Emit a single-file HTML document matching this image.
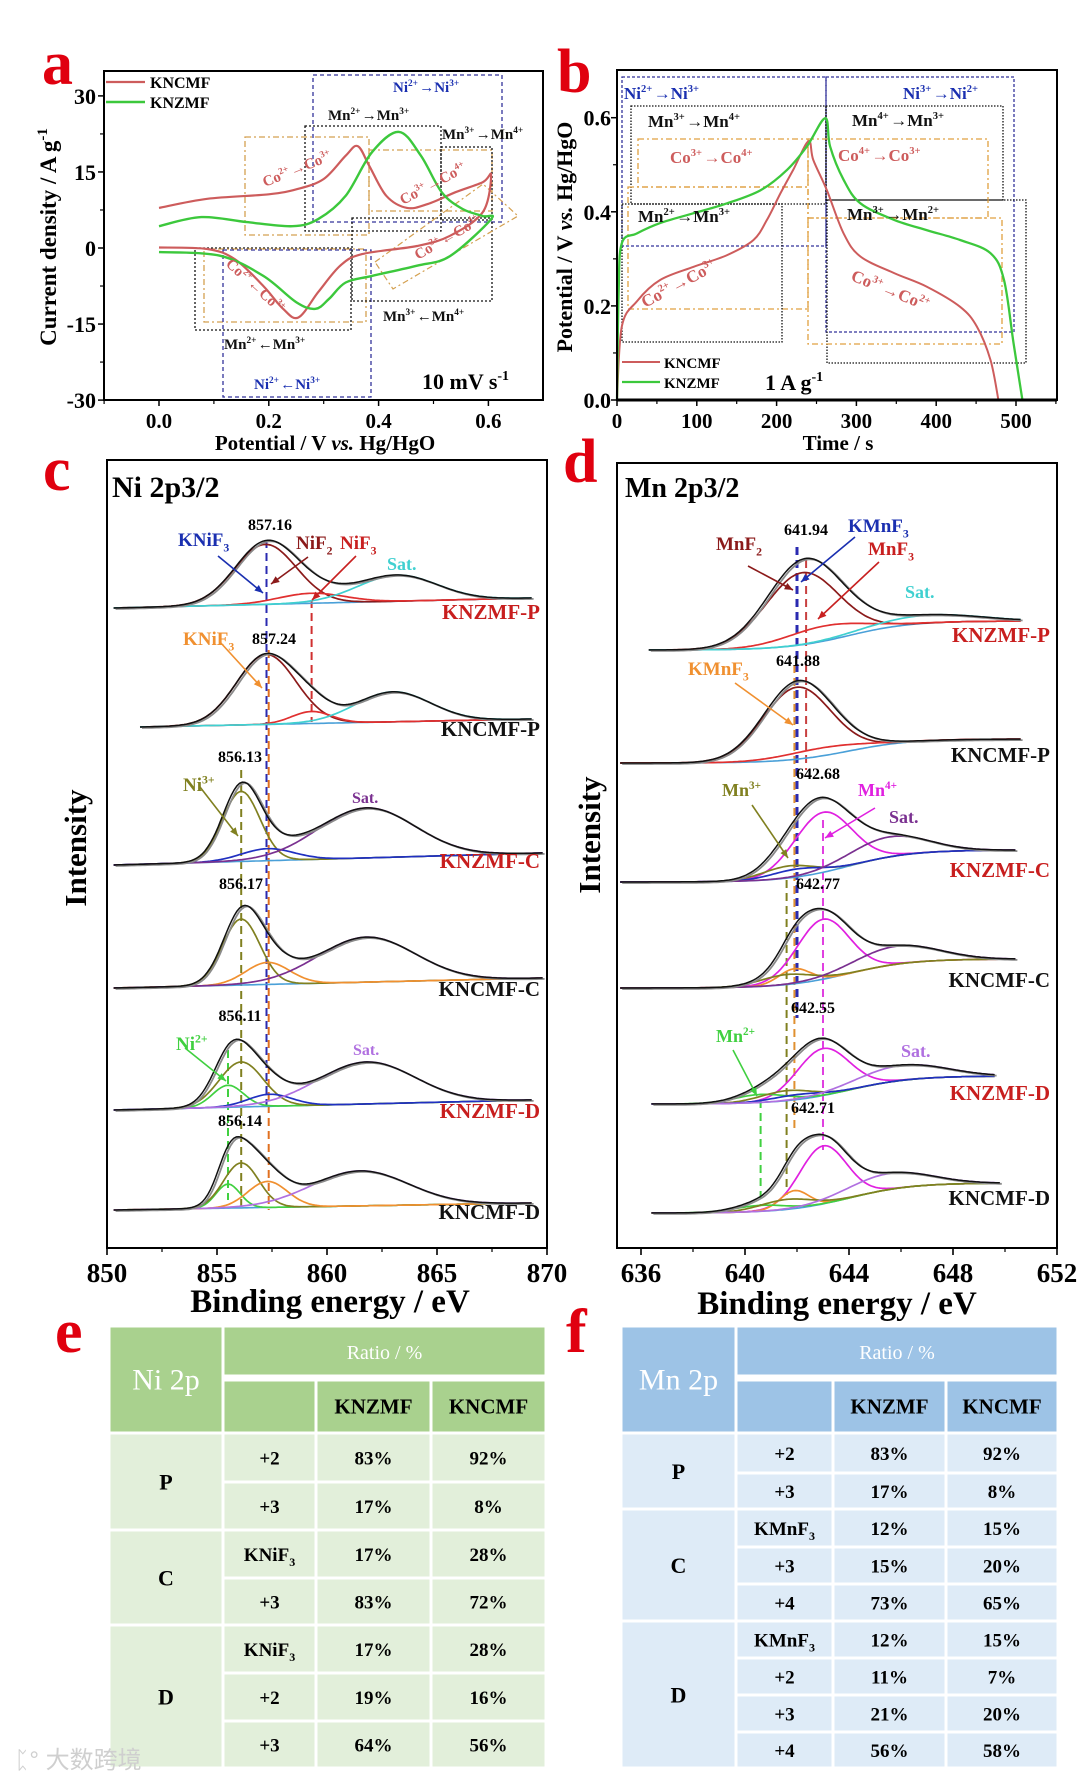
<!DOCTYPE html>
<html><head><meta charset="utf-8"><title>Electrochemistry and XPS figure</title>
<style>
html,body{margin:0;padding:0;background:#fff;}
svg{display:block;font-family:"Liberation Serif","Noto Serif CJK SC",serif;}
</style></head>
<body>
<svg id="fig" xmlns="http://www.w3.org/2000/svg" width="1080" height="1775" viewBox="0 0 1080 1775">
<rect x="0" y="0" width="1080" height="1775" fill="#fff"/>
<g id="pa"></g>
<g id="pb"></g>
<g id="pc"></g>
<g id="pd"></g>
<g id="pe"></g>
<g id="pf"></g>
<text x="15" y="1768" font-size="24" fill="#cfcfcf" font-family="'Liberation Sans','Noto Sans CJK SC',sans-serif">ᛈ° 大数跨境</text>
</svg>
<script>
// ---------- Panel a: CV data ----------
const cvPotKNCMF=[0,0.088,0.2,0.251,0.30,0.34,0.362,0.383,0.414,0.452,0.49,0.54,0.59,0.605,0.59,0.53,0.47,0.37,0.33,0.29,0.254,0.226,0.19,0.138,0.088,0];
const cvCurKNCMF=[7.9,9.7,10.6,11.6,13.6,18.2,20.1,16.2,10.3,7.9,8.7,11,13,14.4,7.1,2.4,0.4,-1.2,-3.5,-8.7,-13.7,-12.0,-7.5,-2.2,-0.2,0.1];
const cvPotKNZMF=[0,0.077,0.16,0.243,0.29,0.34,0.388,0.437,0.477,0.515,0.553,0.59,0.605,0.53,0.47,0.388,0.34,0.31,0.285,0.25,0.19,0.11,0];
const cvCurKNZMF=[4.3,6.1,5.1,4.3,5.7,10.3,18.9,22.9,18.2,11,7.7,6.3,5.7,-1.6,-3.5,-5.5,-6.8,-10,-12.0,-10.7,-5.5,-1.5,-0.8];
const cvXTicks=[0.0,0.2,0.4,0.6];
const cvXTickLabels=["0.0","0.2","0.4","0.6"];
const cvYTicks=[30,15,0,-15,-30];
const cvYTickLabels=["30","15","0","-15","-30"];
// ---------- Panel b: GCD data ----------
const gcdTimeKNCMF=[0,6,25,54,96,138,171,188,205,221,240,246,263,284,305,347,388,430,451,468,478];
const gcdPotKNCMF=[0,0.156,0.21,0.255,0.283,0.308,0.34,0.383,0.44,0.49,0.55,0.51,0.446,0.354,0.305,0.27,0.241,0.198,0.156,0.085,0];
const gcdTimeKNZMF=[0,2,6,25,54,96,138,180,213,238,261,267,284,305,347,388,430,468,485,497,508];
const gcdPotKNZMF=[0,0.227,0.333,0.354,0.376,0.397,0.418,0.446,0.489,0.539,0.599,0.539,0.468,0.418,0.383,0.361,0.34,0.312,0.255,0.12,0];
const gcdXTicks=[0,100,200,300,400,500];
const gcdXTickLabels=["0","100","200","300","400","500"];
const gcdYTicks=[0,0.2,0.4,0.6];
const gcdYTickLabels=["0.0","0.2","0.4","0.6"];
// ---------- Panel c: Ni 2p3/2 fits ----------
const niNames=["KNZMF-P","KNCMF-P","KNZMF-C","KNCMF-C","KNZMF-D","KNCMF-D"];
const niBaseLeft=[608,727,865,988,1110,1210];
const niBaseRight=[598,719,853,978,1100,1203];
const niStart=[850.3,851.5,850.3,850.3,850.3,850.3];
const niEnd=[869.3,869.3,869.8,869.8,869.3,869.3];
const niCenters=[[857.2,859.3,863.2],[857.24,859.3,863.0],[856.1,857.3,861.8],[856.1,857.3,861.8],[855.5,856.1,857.4,861.8],[855.5,856.1,857.3,861.5]];
const niHeights=[[60,10,26],[70,12,30],[70,12,50],[66,22,45],[22,45,12,42],[24,45,26,35]];
const niWidths=[[1.4,1.5,1.8],[1.35,0.9,1.7],[0.85,1.2,2.2],[0.85,1.0,2.2],[0.7,1.0,1.0,2.2],[0.55,0.8,0.9,2.2]];
const niPeakLabels=["857.16","857.24","856.13","856.17","856.11","856.14"];
const niXTicks=[850,855,860,865,870];
const niXTickLabels=["850","855","860","865","870"];
// ---------- Panel d: Mn 2p3/2 fits ----------
const mnNames=["KNZMF-P","KNCMF-P","KNZMF-C","KNCMF-C","KNZMF-D","KNCMF-D"];
const mnBaseLeft=[650,763,882,988,1104,1213];
const mnBaseRight=[621,739,850,959,1076,1183];
const mnStart=[636.3,635.2,635.2,635.2,636.4,636.4];
const mnEnd=[650.6,650.6,650.4,650.4,649.6,649.8];
const mnCenters=[[642.2,643.0,647.0],[642.0,643.0],[643.0,641.7,642.0,645.5],[643.0,641.9,641.6,645.8],[643.0,640.6,641.6,642.0,646.0],[643.0,641.9,640.6,641.6,645.5]];
const mnHeights=[[72,15,8],[72,8],[60,12,8,20],[60,15,10,18],[47,8,10,5,15],[58,18,6,10,16]];
const mnWidths=[[1.4,1.5,2.0],[1.3,1.5],[1.1,1.0,1.0,1.5],[1.0,0.6,1.0,1.6],[1.0,1.0,1.0,1.0,1.7],[0.9,0.55,1.0,1.0,1.6]];
const mnPeakLabels=["641.94","641.88","642.68","642.77","642.55","642.71"];
const mnXTicks=[636,640,644,648,652];
const mnXTickLabels=["636","640","644","648","652"];
// ---------- Tables ----------
const niRowStates=["+2","+3","KNiF3","+3","KNiF3","+2","+3"];
const niKNZMF=["83%","17%","17%","83%","17%","19%","64%"];
const niKNCMF=["92%","8%","28%","72%","28%","16%","56%"];
const mnRowStates=["+2","+3","KMnF3","+3","+4","KMnF3","+2","+3","+4"];
const mnKNZMF=["83%","17%","12%","15%","73%","12%","11%","21%","56%"];
const mnKNCMF=["92%","8%","15%","20%","65%","15%","7%","20%","58%"];
</script>
<script>
const NS="http://www.w3.org/2000/svg";
function mk(parent,tag,attrs,txt){const e=document.createElementNS(NS,tag);for(const k in attrs)e.setAttribute(k,attrs[k]);if(txt!==undefined)e.textContent=txt;parent.appendChild(e);return e;}
function smooth(pts){let d="M"+pts[0][0].toFixed(1)+","+pts[0][1].toFixed(1);for(let i=0;i<pts.length-1;i++){const p0=pts[Math.max(0,i-1)],p1=pts[i],p2=pts[i+1],p3=pts[Math.min(pts.length-1,i+2)];const c1=[p1[0]+(p2[0]-p0[0])/6,p1[1]+(p2[1]-p0[1])/6],c2=[p2[0]-(p3[0]-p1[0])/6,p2[1]-(p3[1]-p1[1])/6];d+="C"+c1[0].toFixed(1)+","+c1[1].toFixed(1)+" "+c2[0].toFixed(1)+","+c2[1].toFixed(1)+" "+p2[0].toFixed(1)+","+p2[1].toFixed(1);}return d;}
function poly(pts){return "M"+pts.map(p=>p[0].toFixed(1)+","+p[1].toFixed(1)).join("L");}
function gauss(x,c,h,w){return h*Math.exp(-((x-c)*(x-c))/(2*w*w));}
function ion(parent,x,y,size,fill,parts,name,rot){
  const t=mk(parent,"text",{x:x,y:y,"font-size":size,fill:fill,"font-weight":"bold",transform:rot?`rotate(${rot} ${x} ${y})`:""});
  
  
  parts.forEach(p=>{if(typeof p==="string"){mk(t,"tspan",{},p);}else{const sub=p[2]==="sub";const dy=sub?size*0.3:-size*0.4;mk(t,"tspan",{},p[0]);mk(t,"tspan",{dy:dy,"font-size":size*0.62},p[1]);mk(t,"tspan",{dy:-dy},"\u200a");}});
  return t;
}
function rectDash(parent,x1,y1,x2,y2,col,dash,name){const r=mk(parent,"rect",{x:x1,y:y1,width:x2-x1,height:y2-y1,fill:"none",stroke:col,"stroke-width":1.3,"stroke-dasharray":dash});return r;}

// ================= Panel a =================
(function(){
const g=document.getElementById("pa");
const L=104,R=543,T=71,B=400;
const xA=v=>159+v*549, yA=i=>248-i*5.07;
const lt=mk(g,"text",{x:42,y:84,"font-size":62,fill:"#e0000f","font-weight":"bold"},"a");
rectDash(g,313,75,502,222,"#33339a","4,3","box-ni-ox");
rectDash(g,305,126,441,231,"#111","2,2","box-mn23-ox");
rectDash(g,245,137,369,235,"#d4a050","6,3,2,3","box-co23-ox");
rectDash(g,369,150,492,211,"#d4a050","6,3,2,3","box-co34-ox");
rectDash(g,441,147,492,220,"#111","2,2","box-mn34-ox");
rectDash(g,195,248,351,330,"#111","2,2","box-mn23-red");
rectDash(g,204,249,366,322,"#d4a050","6,3,2,3","box-co-red");
rectDash(g,223,250,371,397,"#33339a","4,3","box-ni-red");
rectDash(g,352,218,492,301,"#111","2,2","box-mn34-red");
const rp=mk(g,"path",{d:"M375,262 L483,184 L518,216 L393,289 Z",fill:"none",stroke:"#d4a050","stroke-width":1.2,"stroke-dasharray":"6,3,2,3"});
const c1=mk(g,"path",{d:smooth(cvPotKNCMF.map((v,i)=>[xA(v),yA(cvCurKNCMF[i])])),fill:"none",stroke:"#cd5c5c","stroke-width":2.2});
const c2=mk(g,"path",{d:smooth(cvPotKNZMF.map((v,i)=>[xA(v),yA(cvCurKNZMF[i])])),fill:"none",stroke:"#3cc83c","stroke-width":2.4});
const ax=mk(g,"rect",{x:L,y:T,width:R-L,height:B-T,fill:"none",stroke:"#000","stroke-width":2});
cvXTicks.forEach((v,i)=>{mk(g,"line",{x1:xA(v),x2:xA(v),y1:B,y2:B+6,stroke:"#000","stroke-width":1.5});
 const t=mk(g,"text",{x:xA(v),y:428,"font-size":21,"text-anchor":"middle","font-weight":"bold"},cvXTickLabels[i]);});
[-0.1,0.1,0.3,0.5].forEach(v=>mk(g,"line",{x1:xA(v),x2:xA(v),y1:B,y2:B+4,stroke:"#000","stroke-width":1.2}));
cvYTicks.forEach((v,i)=>{mk(g,"line",{x1:L-6,x2:L,y1:yA(v),y2:yA(v),stroke:"#000","stroke-width":1.5});
 const t=mk(g,"text",{x:L-8,y:yA(v)+8,"font-size":22,"text-anchor":"end","font-weight":"bold"},cvYTickLabels[i]);});
[22.5,7.5,-7.5,-22.5].forEach(v=>mk(g,"line",{x1:L-4,x2:L,y1:yA(v),y2:yA(v),stroke:"#000","stroke-width":1.2}));
const yt=mk(g,"text",{x:56,y:237,"font-size":23,"text-anchor":"middle","font-weight":"bold",transform:"rotate(-90 56 237)"});
mk(yt,"tspan",{},"Current density / A g");mk(yt,"tspan",{dy:-9,"font-size":15},"-1");
const xt=mk(g,"text",{x:325,y:450,"font-size":21,"text-anchor":"middle","font-weight":"bold"});
mk(xt,"tspan",{},"Potential / V ");mk(xt,"tspan",{"font-style":"italic"},"vs.");mk(xt,"tspan",{}," Hg/HgO");
const l1=mk(g,"line",{x1:106,x2:145,y1:82,y2:82,stroke:"#cd5c5c","stroke-width":2.2});
const lt1=mk(g,"text",{x:150,y:88,"font-size":16,"font-weight":"bold"},"KNCMF");
const l2=mk(g,"line",{x1:106,x2:145,y1:102,y2:102,stroke:"#3cc83c","stroke-width":2.4});
const lt2=mk(g,"text",{x:150,y:108,"font-size":16,"font-weight":"bold"},"KNZMF");
ion(g,393,92,15,"#1a2fb0",[["Ni","2+"],"\u2192",["Ni","3+"]],"label-ni-ox");
ion(g,328,120,15,"#111",[["Mn","2+"],"\u2192",["Mn","3+"]],"label-mn23-ox");
ion(g,442,139,15,"#111",[["Mn","3+"],"\u2192",["Mn","4+"]],"label-mn34-ox");
ion(g,265,187,15,"#cd5c5c",[["Co","2+"],"\u2192",["Co","3+"]],"label-co23-ox",-22);
ion(g,403,205,15,"#cd5c5c",[["Co","3+"],"\u2192",["Co","4+"]],"label-co34-ox",-28);
ion(g,225,265,15,"#cd5c5c",[["Co","2+"],"\u2190",["Co","3+"]],"label-co23-red",42);
ion(g,418,260,15,"#cd5c5c",[["Co","3+"],"\u2190",["Co","4+"]],"label-co34-red",-30);
ion(g,224,349,15,"#111",[["Mn","2+"],"\u2190",["Mn","3+"]],"label-mn23-red");
ion(g,383,321,15,"#111",[["Mn","3+"],"\u2190",["Mn","4+"]],"label-mn34-red");
ion(g,254,389,15,"#1a2fb0",[["Ni","2+"],"\u2190",["Ni","3+"]],"label-ni-red");
const sr=mk(g,"text",{x:422,y:389,"font-size":22,"font-weight":"bold"});
mk(sr,"tspan",{},"10 mV s");mk(sr,"tspan",{dy:-9,"font-size":14},"-1");
})();

// ================= Panel b =================
(function(){
const g=document.getElementById("pb");
const L=617,R=1057,T=70,B=400;
const xB=t=>617+t*0.798, yB=v=>400-v*470.5;
const lt=mk(g,"text",{x:557,y:92,"font-size":62,fill:"#e0000f","font-weight":"bold"},"b");
rectDash(g,622,77,826,246,"#33339a","3,2","box-ni-charge");
rectDash(g,826,77,1014,332,"#33339a","3,2","box-ni-discharge");
rectDash(g,631,106,826,204,"#111","1.5,1.5","box-mn34-charge");
rectDash(g,826,106,1003,200,"#111","1.5,1.5","box-mn43-discharge");
rectDash(g,638,139,808,187,"#e0a040","6,3,2,3","box-co34-charge");
rectDash(g,808,139,988,218,"#e0a040","6,3,2,3","box-co43-discharge");
rectDash(g,628,187,808,309,"#e0a040","6,3,2,3","box-co23-charge");
rectDash(g,622,204,782,342,"#111","1.5,1.5","box-mn23-charge");
rectDash(g,827,200,1026,363,"#111","1.5,1.5","box-mn32-discharge");
rectDash(g,808,218,1002,344,"#e0a040","6,3,2,3","box-co32-discharge");
const c1=mk(g,"path",{d:smooth(gcdTimeKNCMF.map((t,i)=>[xB(t),yB(gcdPotKNCMF[i])])),fill:"none",stroke:"#cd5c5c","stroke-width":2});
const c2=mk(g,"path",{d:smooth(gcdTimeKNZMF.map((t,i)=>[xB(t),yB(gcdPotKNZMF[i])])),fill:"none",stroke:"#3cc83c","stroke-width":2.3});
const ax=mk(g,"rect",{x:L,y:T,width:R-L,height:B-T,fill:"none",stroke:"#000","stroke-width":2});
mk(g,"line",{x1:L,x2:R,y1:B,y2:B,stroke:"#000","stroke-width":3});
gcdXTicks.forEach((v,i)=>{mk(g,"line",{x1:xB(v),x2:xB(v),y1:B,y2:B+6,stroke:"#000","stroke-width":1.5});
 const t=mk(g,"text",{x:xB(v),y:428,"font-size":21,"text-anchor":"middle","font-weight":"bold"},gcdXTickLabels[i]);});
[50,150,250,350,450,550].forEach(v=>mk(g,"line",{x1:xB(v),x2:xB(v),y1:B,y2:B+4,stroke:"#000","stroke-width":1.2}));
gcdYTicks.forEach((v,i)=>{mk(g,"line",{x1:L-6,x2:L,y1:yB(v),y2:yB(v),stroke:"#000","stroke-width":1.5});
 const t=mk(g,"text",{x:L-6,y:yB(v)+8,"font-size":22,"text-anchor":"end","font-weight":"bold"},gcdYTickLabels[i]);});
[0.1,0.3,0.5].forEach(v=>mk(g,"line",{x1:L-4,x2:L,y1:yB(v),y2:yB(v),stroke:"#000","stroke-width":1.2}));
const yt=mk(g,"text",{x:572,y:237,"font-size":22,"text-anchor":"middle","font-weight":"bold",transform:"rotate(-90 572 237)"});
mk(yt,"tspan",{},"Potential / V ");mk(yt,"tspan",{"font-style":"italic"},"vs.");mk(yt,"tspan",{}," Hg/HgO");
const xt=mk(g,"text",{x:838,y:450,"font-size":21,"text-anchor":"middle","font-weight":"bold"},"Time / s");
const l1=mk(g,"line",{x1:622,x2:660,y1:362,y2:362,stroke:"#cd5c5c","stroke-width":2});
const lt1=mk(g,"text",{x:664,y:368,"font-size":15,"font-weight":"bold"},"KNCMF");
const l2=mk(g,"line",{x1:622,x2:660,y1:382,y2:382,stroke:"#3cc83c","stroke-width":2.3});
const lt2=mk(g,"text",{x:664,y:388,"font-size":15,"font-weight":"bold"},"KNZMF");
const cd=mk(g,"text",{x:765,y:390,"font-size":22,"font-weight":"bold"});
mk(cd,"tspan",{},"1 A g");mk(cd,"tspan",{dy:-9,"font-size":14},"-1");
ion(g,624,99,17,"#1a2fb0",[["Ni","2+"],"\u2192",["Ni","3+"]],"label-ni-charge");
ion(g,903,99,17,"#1a2fb0",[["Ni","3+"],"\u2192",["Ni","2+"]],"label-ni-discharge");
ion(g,648,127,17,"#111",[["Mn","3+"],"\u2192",["Mn","4+"]],"label-mn34-charge");
ion(g,852,126,17,"#111",[["Mn","4+"],"\u2192",["Mn","3+"]],"label-mn43-discharge");
ion(g,670,163,17,"#cd5c5c",[["Co","3+"],"\u2192",["Co","4+"]],"label-co34-charge");
ion(g,838,161,17,"#cd5c5c",[["Co","4+"],"\u2192",["Co","3+"]],"label-co43-discharge");
ion(g,638,222,17,"#111",[["Mn","2+"],"\u2192",["Mn","3+"]],"label-mn23-charge");
ion(g,847,220,17,"#111",[["Mn","3+"],"\u2192",["Mn","2+"]],"label-mn32-discharge");
ion(g,645,308,17,"#cd5c5c",[["Co","2+"],"\u2192",["Co","3+"]],"label-co23-charge",-28);
ion(g,850,280,17,"#cd5c5c",[["Co","3+"],"\u2192",["Co","2+"]],"label-co32-discharge",22);
})();

// ================= XPS panels =================
const niCompColors=[["#8b1a1a","#e03030","#40d0d0"],["#8b1a1a","#e03030","#40d0d0"],["#808020","#2030c0","#7a3090"],["#808020","#f09030","#7a3090"],["#40d040","#808020","#2030c0","#b070e0"],["#40d040","#808020","#f09030","#b070e0"]];
const mnCompColors=[["#8b1a1a","#e03030","#40d0d0"],["#8b1a1a","#e03030"],["#e020e0","#808020","#2030c0","#7a3090"],["#e020e0","#f09030","#808020","#7a3090"],["#e020e0","#40d040","#808020","#2030c0","#b070e0"],["#e020e0","#f09030","#40d040","#808020","#b070e0"]];
const labelColors=["#c81e1e","#111","#c81e1e","#111","#c81e1e","#111"];

function drawXps(g,names,bL,bR,xs,xe,cen,hei,wid,colors,xmap,sigm,key){
  names.forEach((nm,s)=>{
    const base=x=>sigm? bL[s]+(bR[s]-bL[s])/(1+Math.exp(-(x-644)/1.2)) : bL[s]+(bR[s]-bL[s])*(x-xs[s])/(xe[s]-xs[s]);
    const N=160,xsArr=[];for(let k=0;k<=N;k++)xsArr.push(xs[s]+(xe[s]-xs[s])*k/N);
    const bp=mk(g,"path",{d:poly(xsArr.map(x=>[xmap(x),base(x)])),fill:"none",stroke:"#4aa0d8","stroke-width":1.6});
    
    cen[s].forEach((c,j)=>{
      const p=mk(g,"path",{d:poly(xsArr.map(x=>[xmap(x),base(x)-gauss(x,c,hei[s][j],wid[s][j])])),fill:"none",stroke:colors[s][j],"stroke-width":1.7});
      
    });
    const sum=x=>cen[s].reduce((a,c,j)=>a+gauss(x,c,hei[s][j],wid[s][j]),0);
    const ge=mk(g,"path",{d:poly(xsArr.map(x=>[xmap(x)+2,base(x)-sum(x)+1])),fill:"none",stroke:"#8a8a8a","stroke-width":1.8});
    
    const de=mk(g,"path",{d:poly(xsArr.map(x=>[xmap(x),base(x)-sum(x)])),fill:"none",stroke:"#111","stroke-width":1.5});
    
  });
}

(function(){
const g=document.getElementById("pc");
const L=107,R=547,T=460,B=1248;
const xC=e=>107+(e-850)*22;
const lt=mk(g,"text",{x:43,y:490,"font-size":62,fill:"#e0000f","font-weight":"bold"},"c");
[[857.25,"#2a2ab0",540,1110],[857.35,"#e07020",650,1210],[859.3,"#d03030",600,722],[856.1,"#808020",770,1210],[855.5,"#40d040",1050,1200]].forEach(d=>{
 const l=mk(g,"line",{x1:xC(d[0]),x2:xC(d[0]),y1:d[2],y2:d[3],stroke:d[1],"stroke-width":2,"stroke-dasharray":"8,5"});});
drawXps(g,niNames,niBaseLeft,niBaseRight,niStart,niEnd,niCenters,niHeights,niWidths,niCompColors,xC,false,"ni");
const ax=mk(g,"rect",{x:L,y:T,width:R-L,height:B-T,fill:"none",stroke:"#000","stroke-width":2});
niXTicks.forEach((v,i)=>{mk(g,"line",{x1:xC(v),x2:xC(v),y1:B,y2:B+7,stroke:"#000","stroke-width":1.6});
 const t=mk(g,"text",{x:xC(v),y:1282,"font-size":27,"text-anchor":"middle","font-weight":"bold"},niXTickLabels[i]);});
[852.5,857.5,862.5,867.5].forEach(v=>mk(g,"line",{x1:xC(v),x2:xC(v),y1:B,y2:B+4,stroke:"#000","stroke-width":1.2}));
const xt=mk(g,"text",{x:330,y:1312,"font-size":33,"text-anchor":"middle","font-weight":"bold"},"Binding energy / eV");
const yt=mk(g,"text",{x:86,y:848,"font-size":31,"text-anchor":"middle","font-weight":"bold",transform:"rotate(-90 86 848)"},"Intensity");
const tt=mk(g,"text",{x:112,y:497,"font-size":30,"font-weight":"bold"},"Ni 2p3/2");
const lblY=[619,736,868,996,1118,1219];
niNames.forEach((n,i)=>{const t=mk(g,"text",{x:540,y:lblY[i],"font-size":21,"text-anchor":"end","font-weight":"bold",fill:labelColors[i]},n);});
const pkY=[530,644,762,889,1021,1126],pkX=[270,274,240,241,240,240];
niPeakLabels.forEach((p,i)=>{const t=mk(g,"text",{x:pkX[i],y:pkY[i],"font-size":16,"text-anchor":"middle","font-weight":"bold"},p);});
ion(g,178,546,19,"#1a2fb0",[["KNiF","3","sub"]],"label-knif3-blue");
ion(g,296,549,19,"#8b1a1a",[["NiF","2","sub"]],"label-nif2");
ion(g,340,549,19,"#c82020",[["NiF","3","sub"]],"label-nif3");
const s1=mk(g,"text",{x:387,y:570,"font-size":18,"font-weight":"bold",fill:"#40d0d0"},"Sat.");
ion(g,183,645,19,"#f09030",[["KNiF","3","sub"]],"label-knif3-orange");
ion(g,183,791,19,"#808020",[["Ni","3+"]],"label-ni3plus");
const s2=mk(g,"text",{x:352,y:803,"font-size":16,"font-weight":"bold",fill:"#7a3090"},"Sat.");
ion(g,176,1050,19,"#40d040",[["Ni","2+"]],"label-ni2plus");
const s3=mk(g,"text",{x:353,y:1055,"font-size":16,"font-weight":"bold",fill:"#b070e0"},"Sat.");
[[218,556,263,593,"#1a2fb0"],[308,557,271,584,"#8b1a1a"],[356,556,312,600,"#c82020"],[220,642,262,688,"#f09030"],[200,787,238,836,"#808020"],[185,1048,226,1081,"#40d040"]].forEach(a=>{
 const l=mk(g,"line",{x1:a[0],y1:a[1],x2:a[2],y2:a[3],stroke:a[4],"stroke-width":1.6});
 const ang=Math.atan2(a[3]-a[1],a[2]-a[0]);const hx=a[2],hy=a[3];
 mk(g,"path",{d:`M${hx},${hy} L${hx-9*Math.cos(ang-0.4)},${hy-9*Math.sin(ang-0.4)} L${hx-9*Math.cos(ang+0.4)},${hy-9*Math.sin(ang+0.4)} Z`,fill:a[4]});});
})();

(function(){
const g=document.getElementById("pd");
const L=617,R=1057,T=463,B=1248;
const xD=e=>641+(e-636)*26;
const lt=mk(g,"text",{x:563,y:482,"font-size":62,fill:"#e0000f","font-weight":"bold"},"d");
[[642.0,"#2a2ab0",547,1018,3],[641.9,"#e09030",665,1130,2],[642.35,"#c84040",560,770,2],[643.0,"#e040e0",820,1150,2],[641.6,"#808020",880,1195,2],[640.6,"#40d040",1100,1205,2]].forEach(d=>{
 const l=mk(g,"line",{x1:xD(d[0]),x2:xD(d[0]),y1:d[2],y2:d[3],stroke:d[1],"stroke-width":d[4],"stroke-dasharray":"8,5"});});
drawXps(g,mnNames,mnBaseLeft,mnBaseRight,mnStart,mnEnd,mnCenters,mnHeights,mnWidths,mnCompColors,xD,true,"mn");
const ax=mk(g,"rect",{x:L,y:T,width:R-L,height:B-T,fill:"none",stroke:"#000","stroke-width":2});
mnXTicks.forEach((v,i)=>{mk(g,"line",{x1:xD(v),x2:xD(v),y1:B,y2:B+7,stroke:"#000","stroke-width":1.6});
 const t=mk(g,"text",{x:xD(v),y:1282,"font-size":27,"text-anchor":"middle","font-weight":"bold"},mnXTickLabels[i]);});
[638,642,646,650].forEach(v=>mk(g,"line",{x1:xD(v),x2:xD(v),y1:B,y2:B+4,stroke:"#000","stroke-width":1.2}));
const xt=mk(g,"text",{x:837,y:1314,"font-size":33,"text-anchor":"middle","font-weight":"bold"},"Binding energy / eV");
const yt=mk(g,"text",{x:600,y:835,"font-size":31,"text-anchor":"middle","font-weight":"bold",transform:"rotate(-90 600 835)"},"Intensity");
const tt=mk(g,"text",{x:625,y:497,"font-size":28,"font-weight":"bold"},"Mn 2p3/2");
const lblY=[642,762,877,987,1100,1205];
mnNames.forEach((n,i)=>{const t=mk(g,"text",{x:1050,y:lblY[i],"font-size":21,"text-anchor":"end","font-weight":"bold",fill:labelColors[i]},n);});
const pkY=[535,666,779,889,1013,1113],pkX=[806,798,818,818,813,813];
mnPeakLabels.forEach((p,i)=>{const t=mk(g,"text",{x:pkX[i],y:pkY[i],"font-size":16,"text-anchor":"middle","font-weight":"bold"},p);});
ion(g,716,550,19,"#8b1a1a",[["MnF","2","sub"]],"label-mnf2");
ion(g,848,532,19,"#1a2fb0",[["KMnF","3","sub"]],"label-kmnf3-blue");
ion(g,868,555,19,"#c82020",[["MnF","3","sub"]],"label-mnf3");
const s1=mk(g,"text",{x:905,y:598,"font-size":18,"font-weight":"bold",fill:"#40d0d0"},"Sat.");
ion(g,688,675,19,"#f09030",[["KMnF","3","sub"]],"label-kmnf3-orange");
ion(g,722,796,18,"#808020",[["Mn","3+"]],"label-mn3plus");
ion(g,858,796,18,"#e020e0",[["Mn","4+"]],"label-mn4plus");
const s2=mk(g,"text",{x:889,y:823,"font-size":18,"font-weight":"bold",fill:"#7a3090"},"Sat.");
ion(g,716,1042,18,"#40d040",[["Mn","2+"]],"label-mn2plus");
const s3=mk(g,"text",{x:901,y:1057,"font-size":18,"font-weight":"bold",fill:"#b070e0"},"Sat.");
[[748,566,793,590,"#8b1a1a"],[855,537,801,582,"#1a2fb0"],[879,562,818,619,"#c82020"],[735,683,793,725,"#f09030"],[752,805,788,858,"#808020"],[875,808,825,838,"#e020e0"],[733,1050,757,1096,"#40d040"]].forEach(a=>{
 const l=mk(g,"line",{x1:a[0],y1:a[1],x2:a[2],y2:a[3],stroke:a[4],"stroke-width":1.6});
 const ang=Math.atan2(a[3]-a[1],a[2]-a[0]);const hx=a[2],hy=a[3];
 mk(g,"path",{d:`M${hx},${hy} L${hx-9*Math.cos(ang-0.4)},${hy-9*Math.sin(ang-0.4)} L${hx-9*Math.cos(ang+0.4)},${hy-9*Math.sin(ang+0.4)} Z`,fill:a[4]});});
})();

// ================= Tables =================
function drawTable(g,cols,rows,groups,groupNames,states,v1,v2,hdr,body,title,letter,lx,key){
  const lt=mk(g,"text",{x:lx,y:1352,"font-size":62,fill:"#e0000f","font-weight":"bold"},letter);
  const T=1326,H1=1378,H2=1433;
  const cell=(x1,y1,x2,y2,fill,name)=>{const r=mk(g,"rect",{x:x1+1.5,y:y1+1.5,width:x2-x1-3,height:y2-y1-3,fill:fill});};
  cell(cols[0],T,cols[1],H2,hdr,key+'-title-cell');
  cell(cols[1],T,cols[4],H1-2,hdr,key+'-ratio-header');
  for(let c=1;c<4;c++)cell(cols[c],H1+2,cols[c+1],H2,hdr,key+'-subheader-cell');
  const t1=mk(g,"text",{x:(cols[0]+cols[1])/2,y:(T+H2)/2+10,"font-size":30,fill:"#fff","text-anchor":"middle"},title);
  const t2=mk(g,"text",{x:(cols[1]+cols[4])/2,y:(T+H1)/2+7,"font-size":20,fill:"#fff","text-anchor":"middle"},"Ratio / %");
  ["KNZMF","KNCMF"].forEach((n,i)=>{const t=mk(g,"text",{x:(cols[2+i]+cols[3+i])/2,y:(H1+H2)/2+8,"font-size":21,"text-anchor":"middle","font-weight":"bold"},n);});
  groups.forEach((gr,k)=>{const y1=rows[gr[0]],y2=rows[gr[1]+1];cell(cols[0],y1,cols[1],y2,body,key+'-group-cell');
    const t=mk(g,"text",{x:(cols[0]+cols[1])/2,y:(y1+y2)/2+8,"font-size":22,"text-anchor":"middle","font-weight":"bold"},groupNames[k]);});
  states.forEach((s,r)=>{const y1=rows[r],y2=rows[r+1],yc=(y1+y2)/2+7;
    for(let c=1;c<4;c++)cell(cols[c],y1,cols[c+1],y2,body,key+'-body-cell');
    const st=mk(g,"text",{x:(cols[1]+cols[2])/2,y:yc,"font-size":19,"text-anchor":"middle","font-weight":"bold"});
    const m=s.match(/^(.*?)(3)$/);
    if(s.startsWith("K")&&m){mk(st,"tspan",{},m[1]);mk(st,"tspan",{dy:5,"font-size":12},"3");}else mk(st,"tspan",{},s);
    const a=mk(g,"text",{x:(cols[2]+cols[3])/2,y:yc,"font-size":19,"text-anchor":"middle","font-weight":"bold"},v1[r]);
    const b=mk(g,"text",{x:(cols[3]+cols[4])/2,y:yc,"font-size":19,"text-anchor":"middle","font-weight":"bold"},v2[r]);
  });
}
drawTable(document.getElementById("pe"),[109,223,316,431,546],[1433,1482,1530,1578,1625,1673,1721,1768],[[0,1],[2,3],[4,6]],["P","C","D"],niRowStates,niKNZMF,niKNCMF,"#a9d18e","#e2efda","Ni 2p","e",55,"ni-table");
drawTable(document.getElementById("pf"),[621,736,833,946,1058],[1433,1473,1509,1547,1584,1621,1658,1695,1732,1768],[[0,1],[2,4],[5,8]],["P","C","D"],mnRowStates,mnKNZMF,mnKNCMF,"#9dc3e6","#deebf7","Mn 2p","f",566,"mn-table");
</script>
</body></html>
